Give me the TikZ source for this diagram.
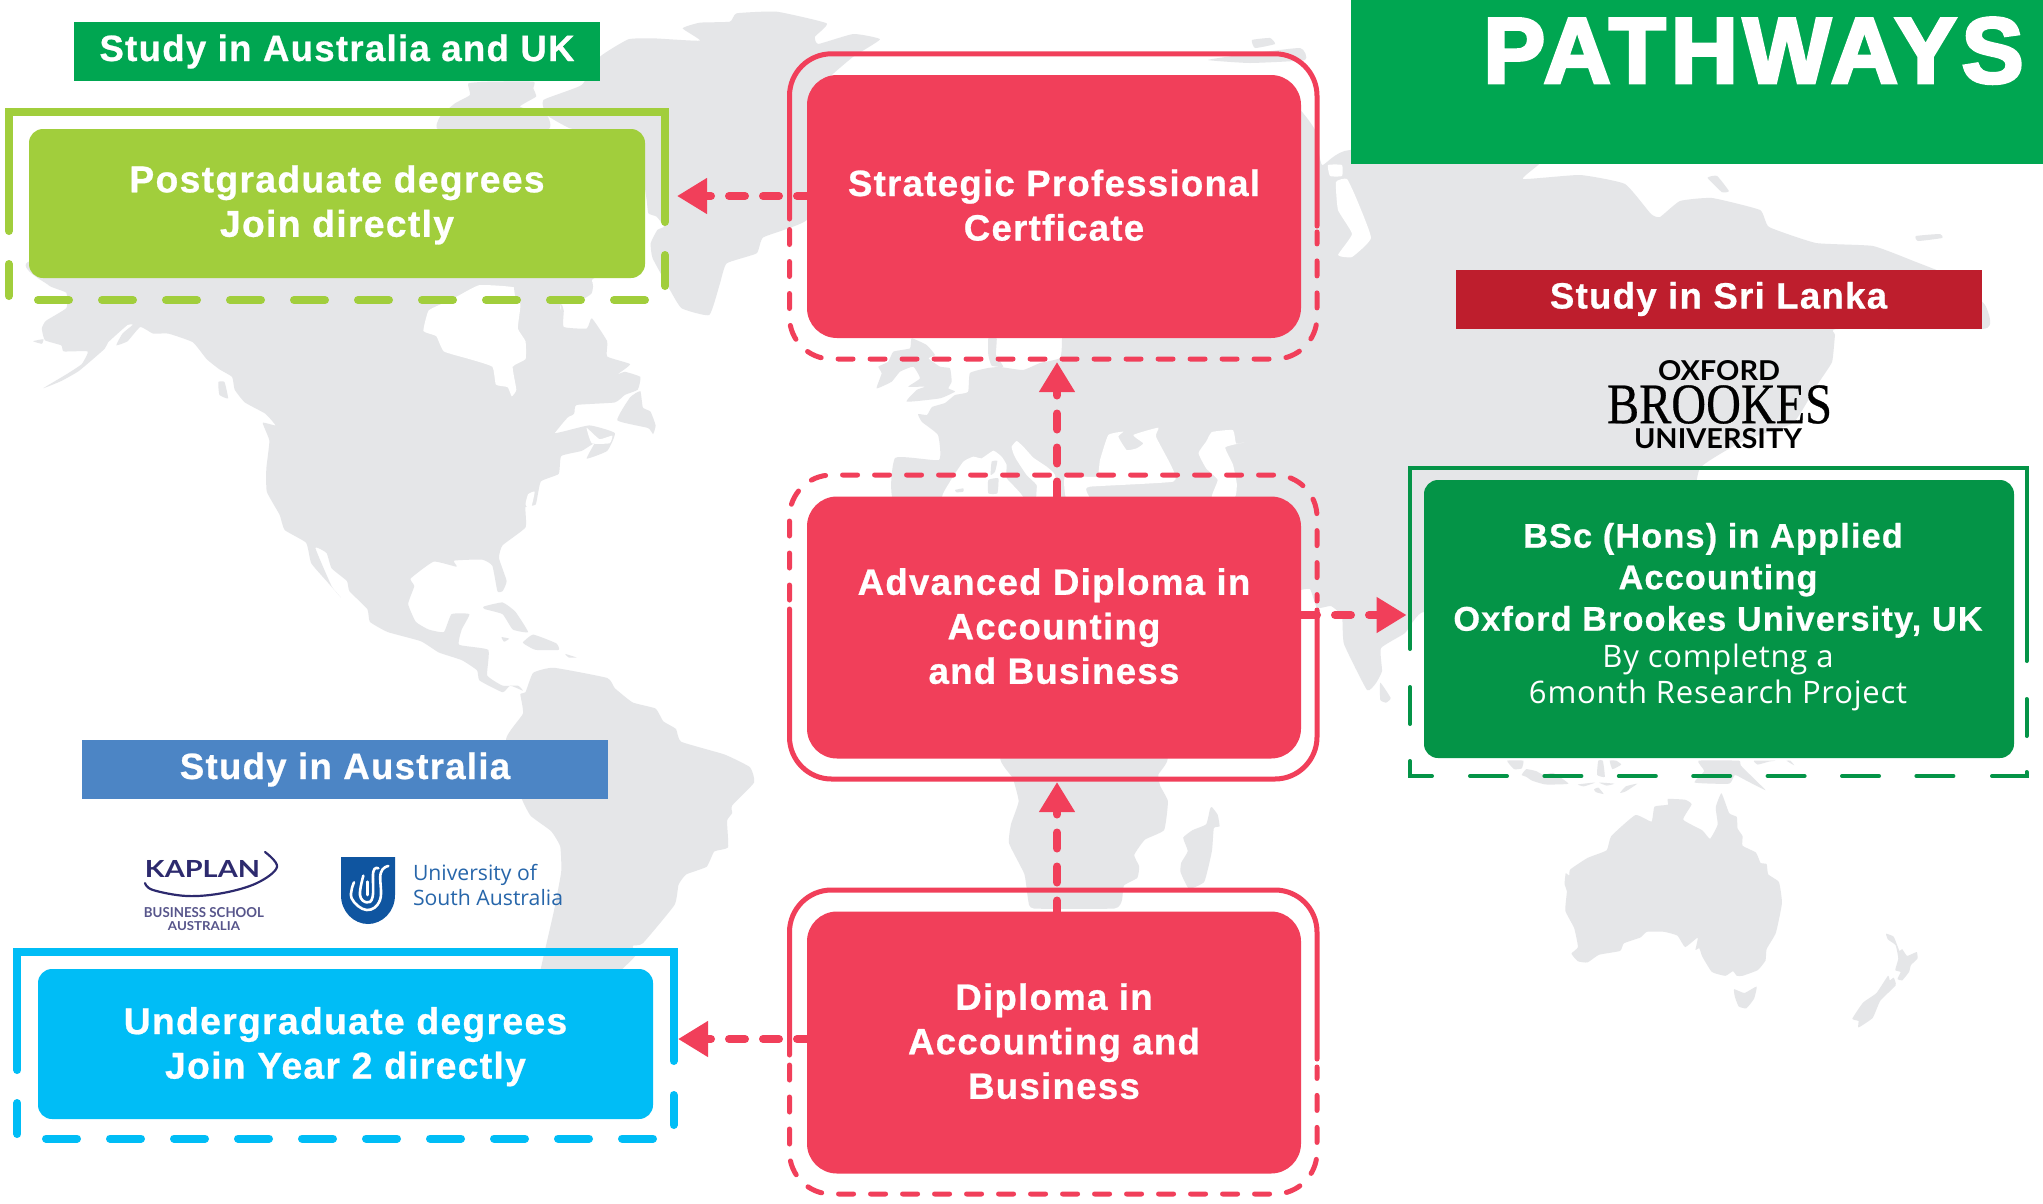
\documentclass[tikz,border=0pt]{standalone}
\usepackage{fontspec}
\usepackage{graphicx}
\usetikzlibrary{arrows.meta}
\newfontfamily\hvfont[LetterSpace=3.5,FakeBold=0.7]{Liberation Sans Bold}
\newfontfamily\pwfont[LetterSpace=5.5,FakeBold=3.5]{Liberation Sans Bold}
\newfontfamily\bodyfont[LetterSpace=2.5]{Open Sans}
\newfontfamily\latofont{Lato}
\newfontfamily\opfont{Open Sans}
\newfontfamily\srfont[FakeBold=0.5]{Liberation Serif}
\definecolor{hdrgreen}{HTML}{00A651}
\definecolor{limegreen}{HTML}{A1CE3C}
\definecolor{skycyan}{HTML}{00BDF6}
\definecolor{deepgreen}{HTML}{049447}
\definecolor{rosered}{HTML}{F13F5A}
\definecolor{srired}{HTML}{BE1E2D}
\definecolor{ausblue}{HTML}{4C85C5}
\definecolor{landgray}{HTML}{E5E6E8}
\definecolor{kaplanblue}{HTML}{2D2A6E}
\definecolor{unisablue}{HTML}{0F55A0}
\newcommand{\landpoly}[1]{\fill[landgray] plot[smooth cycle,tension=.25] coordinates {#1};}
\newcommand{\seapoly}[1]{\fill[white] plot[smooth cycle,tension=.25] coordinates {#1};}
\newcommand{\bsclarge}{\hvfont}
\newcommand{\bscsmall}{\fontsize{31}{41.5}\selectfont\bodyfont}
\tikzset{
  bigbox/.style={inner sep=0pt,outer sep=0pt,align=center,text=white,fill=rosered,rounded corners=30pt,minimum width=494pt,minimum height=262pt,text depth=3pt,font=\fontsize{36.6}{44.5}\selectfont\hvfont},
  smallbox/.style={inner sep=0pt,outer sep=0pt,align=center,text=white,rounded corners=14pt,minimum height=149pt,font=\fontsize{37.3}{44.5}\selectfont\hvfont},
  banner/.style={inner sep=0pt,outer sep=0pt,text=white,minimum width=526pt,minimum height=59pt,text height=26pt,text depth=7pt,font=\fontsize{36.6}{44}\selectfont\hvfont},
  conn/.style={draw=rosered,line width=8pt,line cap=round,dash pattern=on 16pt off 18pt,-{Triangle[length=30pt,width=34pt,fill=rosered]}},
  redline/.style={draw=rosered,line width=5pt,line cap=round,rounded corners=42pt},
  reddash/.style={draw=rosered,line width=5pt,line cap=round,rounded corners=42pt,dash pattern=on 15pt off 17pt},
  thick8/.style={line width=8pt,line cap=round,line join=miter},
  dash8/.style={line width=8pt,line cap=round,dash pattern=on 31pt off 33pt},
  thin4/.style={draw=deepgreen,line width=4pt,line cap=round,line join=miter},
  logotext/.style={inner sep=0pt,outer sep=0pt}
}
\begin{document}
\begin{tikzpicture}[x=1pt,y=-1pt]
\useasboundingbox (0,0) rectangle (2043,1203);
\fill[white] (0,0) rectangle (2043,1203);

% ---------- world map ----------
% North and South America
\begin{scope}[shift={(0,280)},scale=0.5102]
\landpoly{(80,-40)(95,10)(130,25)(130,55)(90,80)(82,95)(88,118)(120,128)(125,140)(172,140)(160,165)(130,185)(85,212)(120,198)(155,178)(205,135)(212,122)(250,88)(260,88)(240,105)(228,128)(250,120)(275,92)(300,105)(330,105)(378,122)(405,155)(430,175)(455,190)(460,215)(480,240)(520,262)(540,285)(515,280)(528,315)(522,370)(523,415)(548,460)(558,490)(600,515)(610,555)(640,590)(668,622)(650,600)(618,525)(640,535)(650,565)(680,590)(685,610)(720,645)(725,670)(760,690)(825,708)(860,730)(905,745)(935,765)(940,785)(985,808)(1000,795)(1025,805)(1015,795)(985,795)(955,775)(957,725)(900,715)(905,685)(920,655)(885,655)(870,690)(840,685)(815,670)(800,635)(812,600)(805,585)(850,552)(895,562)(890,550)(945,548)(965,560)(975,610)(985,610)(993,590)(978,545)(985,520)(1030,485)(1030,445)(1050,440)(1060,395)(1095,380)(1100,345)(1140,335)(1165,320)(1150,350)(1190,335)(1205,300)(1155,285)(1088,300)(1125,262)(1130,245)(1205,240)(1225,225)(1250,215)(1255,190)(1225,180)(1210,185)(1235,165)(1190,150)(1190,120)(1160,75)(1150,95)(1105,92)(1105,60)(1100,35)(1155,30)(1160,0)(1150,-30)}
\landpoly{(1030,808)(1045,770)(1085,760)(1190,780)(1205,800)(1240,828)(1285,840)(1300,865)(1325,880)(1335,905)(1420,930)(1470,955)(1478,985)(1435,1030)(1435,1045)(1425,1060)(1427,1112)(1400,1120)(1385,1150)(1345,1165)(1330,1185)(1322,1225)(1260,1300)(1240,1305)(1245,1325)(1210,1360)(1200,1375)(1060,1375)(1060,1350)(1085,1240)(1100,1160)(1098,1110)(1080,1080)(1040,1050)(1020,1010)(992,900)(1025,850)(1020,812)}
\landpoly{(948,640)(985,632)(1010,650)(1035,690)(1005,685)(985,655)(950,645)}
\landpoly{(1025,710)(1045,695)(1090,712)(1095,725)(1050,725)(1030,715)}
\landpoly{(983,700)(998,703)(988,709)}
\landpoly{(1108,733)(1130,740)(1115,740)}
\landpoly{(428,200)(440,200)(447,232)(430,225)}
\landpoly{(65,120)(85,116)(82,125)}
\landpoly{(1260,250)(1275,258)(1285,285)(1280,302)(1270,290)(1210,275)(1235,230)(1255,218)}
\seapoly{(870,45)(840,60)(830,100)(855,110)(870,140)(920,155)(965,170)(972,205)(995,210)(1003,228)(1012,215)(1005,170)(1030,155)(1030,120)(1015,95)(1020,50)(1010,15)(940,10)(900,30)}
\seapoly{(1088,300)(1115,268)(1160,255)(1140,275)(1110,285)}
\seapoly{(1163,250)(1190,262)(1170,262)}
\seapoly{(1150,290)(1175,312)(1200,305)(1195,320)(1160,320)}
\seapoly{(1035,420)(1048,415)(1040,450)(1030,440)}
\seapoly{(1100,60)(1100,10)(1150,10)(1160,40)(1100,48)}
\end{scope}

% Greenland and Arctic islands
\begin{scope}[shift={(500,0)},scale=0.3333]
\landpoly{(710,40)(830,35)(980,70)(945,110)(955,132)(1060,102)(1140,118)(1060,170)(990,230)(930,300)(960,500)(920,660)(790,712)(770,760)(680,790)(660,850)(628,945)(545,925)(510,870)(458,775)(452,730)(472,690)(492,680)(470,650)(445,640)(440,600)(420,500)(300,400)(210,385)(140,345)(130,300)(245,255)(300,170)(385,118)(460,115)(600,122)(548,85)(600,68)(690,65)}
\landpoly{(-135,310)(-90,285)(-95,250)(-30,245)(100,245)(100,265)(108,290)(60,320)(140,345)(140,390)(-180,390)(-180,350)}
\landpoly{(50,830)(270,840)(275,880)(240,900)(130,900)(50,900)}
\end{scope}
% Svalbard
\landpoly{(1252,40)(1270,38)(1275,44)(1255,48)}
\landpoly{(1208,60)(1240,55)(1300,48)(1305,60)(1250,63)}

% Eurasia
\landpoly{(1062,338)(1062,200)(1290,120)(1300,110)(1315,130)(1322,165)(1350,150)(1539,150)(1539,164)(1523,179)(1580,175)(1625,184)(1651,214)(1660,217)(1680,201)(1712,198)(1760,210)(1769,227)(1816,243)(1873,246)(1916,262)(1960,280)(1985,305)(1990,320)(1982,329)(1838,329)(1835,335)(1832,362)(1817,385)(1793,423)(1745,440)(1700,468)(1690,520)(1650,640)(1500,640)(1424,612)(1405,633)(1381,648)(1382,671)(1376,683)(1367,690)(1344,644)(1342,616)(1331,606)(1317,608)(1310,589)(1298,591)(1296,600)(1200,600)(1100,520)(900,510)(895,458)(939,460)(938,435)(922,422)(918,414)(927,415)(932,407)(945,403)(955,395)(968,392)(970,373)(988,368)(1000,367)(1023,370)(1040,363)(1060,358)}
\landpoly{(1916,236)(1940,234)(1942,238)(1918,241)}
\seapoly{(1336,182)(1347,179)(1357,200)(1371,238)(1352,257)(1338,255)(1352,234)(1338,210)}
\seapoly{(1328,165)(1342,165)(1342,176)(1330,176)}
\begin{scope}[shift={(1300,120)},scale=0.4739]
\landpoly{(860,122)(880,118)(905,150)(890,152)}
\end{scope}

% Europe details and inner seas
\begin{scope}[shift={(860,335)},scale=0.3333]
\landpoly{(50,160)(65,115)(55,95)(85,80)(100,50)(150,40)(155,10)(200,30)(225,60)(205,70)(240,95)(270,100)(275,140)(265,160)(285,170)(240,190)(140,200)(170,165)(195,155)(145,155)(180,130)(160,95)(120,110)(95,140)}
\landpoly{(385,10)(410,10)(408,60)(430,95)(395,92)(385,60)}
\seapoly{(250,495)(270,440)(310,380)(340,365)(365,370)(400,347)(425,365)(440,390)(440,430)(490,495)}
\seapoly{(455,335)(470,318)(490,335)(520,368)(560,395)(585,420)(585,495)(530,495)(530,450)(500,420)(470,375)(460,355)}
\seapoly{(620,495)(615,425)(710,425)(720,375)(745,300)(790,290)(775,305)(800,345)(830,340)(850,325)(820,300)(895,278)(888,305)(935,395)(940,440)(690,455)(680,470)(690,495)}
\landpoly{(395,380)(412,378)(405,410)(392,420)}
\landpoly{(385,435)(415,430)(412,475)(385,475)}
\landpoly{(285,465)(310,460)(310,470)(290,472)}
\end{scope}
\begin{scope}[shift={(900,300)},scale=0.3827]
\seapoly{(780,400)(800,370)(815,345)(870,340)(878,375)(900,372)(850,385)(870,430)(880,480)(875,515)(815,515)(830,470)(800,440)}
% Sri Lanka
\landpoly{(1255,1000)(1282,1040)(1270,1052)(1255,1045)}
% Africa
\landpoly{(270,1190)(295,1250)(310,1310)(290,1370)(285,1420)(325,1500)(335,1568)(350,1590)(560,1590)(580,1568)(585,1530)(620,1510)(625,1480)(612,1450)(640,1410)(690,1385)(700,1310)(680,1270)(675,1240)(690,1190)}
% Madagascar
\landpoly{(815,1325)(830,1345)(835,1375)(820,1380)(815,1440)(795,1520)(755,1538)(733,1495)(735,1470)(752,1440)(740,1405)(765,1385)(800,1370)(810,1330)}
\end{scope}

% Australia, New Zealand, South-East Asia
\begin{scope}[shift={(1400,750)},scale=0.3827]
\landpoly{(433,322)(442,328)(445,312)(490,282)(540,262)(552,225)(615,170)(657,187)(665,148)(700,143)(700,128)(745,130)(762,142)(740,182)(790,210)(810,232)(830,195)(825,150)(840,113)(860,165)(880,175)(882,205)(895,225)(895,250)(930,268)(942,295)(958,298)(962,325)(990,345)(998,400)(982,478)(958,520)(955,550)(935,575)(895,590)(880,590)(870,578)(850,590)(815,580)(790,540)(782,518)(772,522)(778,490)(745,515)(725,485)(690,475)(645,475)(628,490)(585,505)(575,525)(520,535)(490,555)(465,552)(448,532)(465,515)(455,465)(432,420)(436,370)(430,350)}
\landpoly{(873,625)(900,635)(932,618)(925,650)(905,675)(885,670)(875,645)}
\landpoly{(1270,480)(1290,488)(1305,525)(1312,520)(1325,538)(1350,528)(1352,545)(1335,562)(1330,580)(1312,602)(1300,598)(1308,580)(1294,575)(1302,545)(1295,510)(1275,495)}
\landpoly{(1275,590)(1280,602)(1290,595)(1295,615)(1255,655)(1235,700)(1198,725)(1198,708)(1182,702)(1210,660)(1245,635)}
\landpoly{(280,28)(298,50)(318,48)(322,28)}
\landpoly{(518,28)(515,65)(535,70)(530,28)}
\landpoly{(548,28)(555,50)(578,38)(565,28)}
\landpoly{(318,65)(330,50)(355,55)(375,65)(400,60)(440,88)(380,90)(345,80)(330,70)}
\landpoly{(465,90)(510,85)(480,95)}
\landpoly{(520,85)(560,88)(540,93)}
\landpoly{(507,103)(518,98)(532,115)(512,110)}
\landpoly{(575,112)(590,95)(620,88)(590,108)}
\landpoly{(780,28)(795,55)(770,85)(860,88)(875,65)(905,80)(955,105)(930,80)(890,40)(885,28)}
\landpoly{(925,28)(935,38)(965,30)(980,28)}
\landpoly{(1010,28)(1030,40)(1020,28)}
\end{scope}

% ---------- top right title ----------
\fill[hdrgreen] (1350.5,0) rectangle (2043,164);
\node[logotext,text=white,font=\fontsize{93}{93}\selectfont\pwfont] (title) at (1753.5,50.7) {PATHWAYS};

% ---------- frames ----------
% Postgraduate frame
\draw[limegreen,thick8] (8.8,231)--(8.8,111.5)--(665,111.5)--(665,222);
\draw[limegreen,thick8] (8.8,264)--(8.8,296);
\draw[limegreen,thick8] (665,255)--(665,286);
\draw[limegreen,dash8] (38,300)--(650,300);
% Undergraduate frame
\draw[skycyan,thick8] (17.3,1070)--(17.3,951.5)--(673.5,951.5)--(673.5,1061);
\draw[skycyan,thick8] (17.3,1103)--(17.3,1134);
\draw[skycyan,thick8] (673.5,1095)--(673.5,1125);
\draw[skycyan,dash8] (46,1138.5)--(660,1138.5);
% BSc frame
\draw[thin4] (1410,649)--(1410,468)--(2026.5,468)--(2026.5,661);
\draw[thin4] (1410,687)--(1410,724);
\draw[thin4] (2026.5,699)--(2026.5,736);
\draw[thin4] (1410,761)--(1410,776)--(1432,776);
\draw[thin4,dash pattern=on 37pt off 37.4pt] (1470,776)--(1985,776);
\draw[thin4] (1992,776)--(2026.5,776)--(2026.5,772);
% Strategic frame
\draw[redline] (789.5,219) -- (789.5,53.8) -- (1317,53.8) -- (1317,226);
\draw[reddash] (789.5,229.5) -- (789.5,359) -- (1317,359) -- (1317,232);
% Advanced frame
\draw[redline] (789.5,609) -- (789.5,779) -- (1317,779) -- (1317,610);
\draw[reddash] (789.5,600) -- (789.5,475) -- (1317,475) -- (1317,601);
% Diploma frame
\draw[redline] (789.5,1055) -- (789.5,890) -- (1317,890) -- (1317,1059);
\draw[reddash] (789.5,1065) -- (789.5,1194) -- (1317,1194) -- (1317,1067);

% ---------- boxes ----------
\node[bigbox,minimum height=263pt] (stc) at (1054,206.5) {Strategic Professional\\Certficate};
\node[bigbox] (adv) at (1054,627.5) {Advanced Diploma in\\Accounting\\and Business};
\node[bigbox] (dip) at (1054,1042.5) {Diploma in\\Accounting and\\Business};
\node[smallbox,fill=limegreen,minimum width=616pt,text height=74.3pt] (pgd) at (337,203.5) {Postgraduate degrees\\Join directly};
\node[smallbox,fill=skycyan,minimum width=615pt,minimum height=150pt,text height=76.9pt] (ugd) at (345.5,1044) {Undergraduate degrees\\Join Year 2 directly};
\node[smallbox,fill=deepgreen,minimum width=590pt,minimum height=278pt] (bsc) at (1719,619) {};
\node[inner sep=0pt,outer sep=0pt,align=center,text=white,font=\fontsize{34.2}{41.5}\selectfont] (bsctext) at (1718,617) {\bsclarge BSc (Hons) in Applied\hspace*{10pt}\\\bsclarge Accounting\hspace*{10pt}\\\bsclarge Oxford Brookes University, UK\\[-5pt]\bscsmall By completng a\\[-5pt]\bscsmall 6month Research Project};

% ---------- banners ----------
\node[banner,fill=hdrgreen] (ban1) at (337,51.5) {Study in Australia and UK};
\node[banner,fill=ausblue] (ban2) at (345,769.5) {Study in Australia};
\node[banner,fill=srired,text depth=8pt] (ban3) at (1718.5,299.5) {Study in Sri Lanka};

% ---------- logos ----------
\node[logotext,text=black] (ox1) at (1719,371) {\resizebox{122pt}{20pt}{\latofont\bfseries OXFORD}};
\node[logotext,text=black] (ox2) at (1719.5,404.5) {\resizebox{225pt}{38pt}{\srfont BROOKES}};
\node[logotext,text=black] (ox3) at (1718,439) {\resizebox{168pt}{20pt}{\latofont\bfseries UNIVERSITY}};

\node[logotext,text=kaplanblue] (kap) at (202.5,868.5) {\resizebox{115pt}{17pt}{\latofont\bfseries KAPLAN}};
\draw[kaplanblue,line width=2.2pt,line cap=round] plot[smooth,tension=.6] coordinates {(145,883)(153,890)(187,896)(223,893)(257,883)(277,867)(265,852)};
\node[logotext,text=kaplanblue!80] (kap2) at (204,913) {\resizebox{120pt}{10pt}{\latofont\bfseries BUSINESS SCHOOL}};
\node[logotext,text=kaplanblue!80] (kap3) at (204,926.5) {\resizebox{72pt}{9pt}{\latofont\bfseries AUSTRALIA}};

\fill[unisablue] (341,857) -- (395,857) -- (395,895) .. controls (395,912) and (382,924) .. (368,924) .. controls (354,924) and (341,912) .. (341,895) -- cycle;
\begin{scope}[shift={(330,845)},scale=0.3333]
\draw[white,line width=2.6pt,line cap=round] plot[smooth,tension=.7] coordinates {(72,112)(65,160)(110,195)(150,165)(152,85)(175,63)};
\draw[white,line width=2.6pt,line cap=round] plot[smooth,tension=.7] coordinates {(100,92)(90,150)(110,172)(128,155)(130,80)(145,70)};
\draw[white,line width=2.6pt,line cap=round] plot[smooth,tension=.7] coordinates {(113,110)(113,150)};
\end{scope}
\node[logotext,anchor=base west,text=unisablue!90] (usa1) at (413,880) {\resizebox{124pt}{!}{\opfont University of}};
\node[logotext,anchor=base west,text=unisablue!90] (usa2) at (413,905) {\resizebox{150pt}{!}{\opfont South Australia}};

% ---------- connectors ----------
\coordinate (tipa) at (677,196);
\coordinate (tipb) at (1057,362);
\coordinate (tipc) at (1406.6,615);
\coordinate (tipd) at (1057,782);
\coordinate (tipe) at (678,1039);
\draw[conn,dash phase=6pt] (tipa -| stc.west) -- (tipa);
\draw[conn,dash phase=1pt] (adv.north -| tipb) -- (tipb);
\draw[conn] (tipc -| adv.east) -- (tipc);
\draw[conn,dash phase=5pt] (dip.north -| tipd) -- (tipd);
\draw[conn,dash phase=6pt] (tipe -| dip.west) -- (tipe);
\end{tikzpicture}
\end{document}
